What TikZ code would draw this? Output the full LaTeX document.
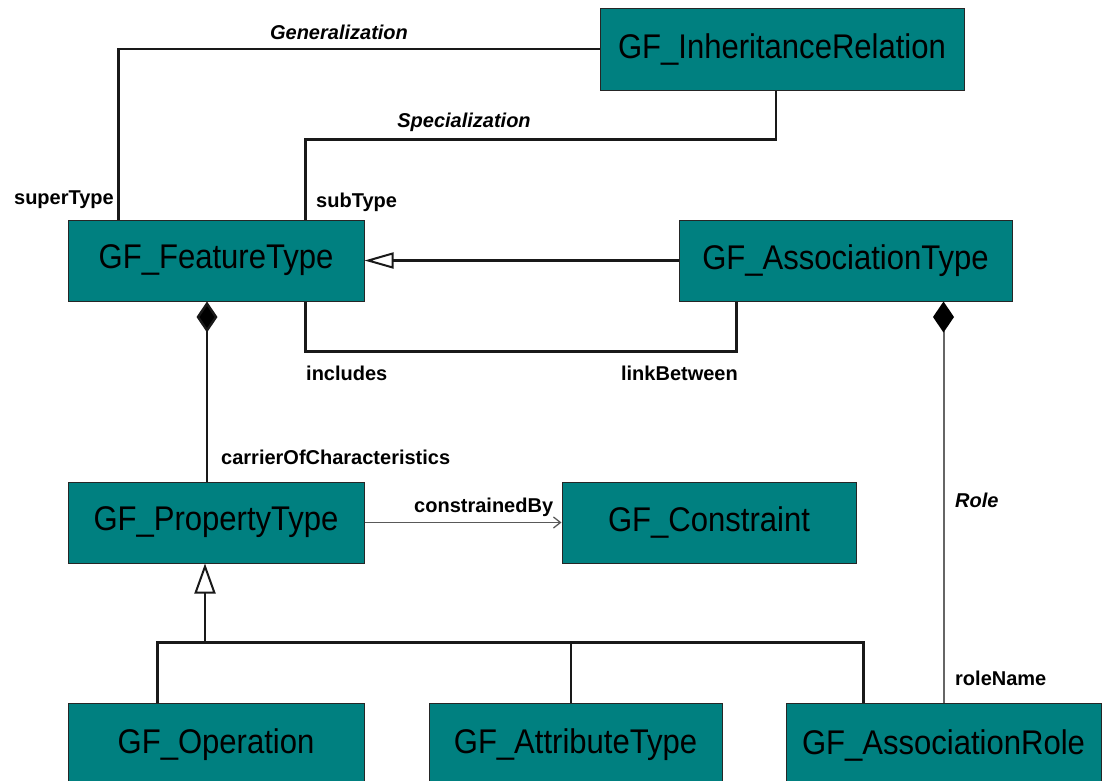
\documentclass[tikz,border=0pt]{standalone}
\usepackage{fontspec}
\setmainfont{Liberation Sans}
\usetikzlibrary{arrows.meta}
\definecolor{boxteal}{RGB}{0,128,128}
\newcommand{\tallname}[1]{\scalebox{0.97}[1.07]{#1}}
\begin{document}
\begin{tikzpicture}[x=1pt,y=-1pt,
  classbox/.style={rectangle, fill=boxteal, draw=black!85, line width=1pt,
    inner sep=0pt, font=\fontsize{32}{38}\selectfont, text=black},
  rolelabel/.style={inner sep=0pt, font=\fontsize{20}{24}\selectfont\bfseries},
  assoclabel/.style={inner sep=0pt, font=\fontsize{20}{24}\selectfont\bfseries\itshape},
  thick link/.style={draw=black!90, line width=2.4pt},
  thin link/.style={draw=black!65, line width=1.4pt},
  hollow gen/.style={-{Triangle[open, length=29pt, width=16pt, line width=2pt]}},
  composite/.style={{Diamond[fill=black, length=31pt, width=21pt]}-}
]
\useasboundingbox (0,0) rectangle (1103,780);
\clip (0,0) rectangle (1103,780);
\fill[white] (0,0) rectangle (1103,780);

% classes
\node[classbox, minimum width=364pt, minimum height=82pt] (inh) at (782,49) {\tallname{GF\_InheritanceRelation}};
\node[classbox, minimum width=296pt, minimum height=81pt] (ft)  at (216,260.5) {\tallname{GF\_FeatureType}};
\node[classbox, minimum width=333pt, minimum height=81pt] (at)  at (845.5,260.5) {\tallname{GF\_AssociationType}};
\node[classbox, minimum width=296pt, minimum height=81pt] (pt)  at (216,522.5) {\tallname{GF\_PropertyType}};
\node[classbox, minimum width=294pt, minimum height=81pt] (con) at (709,522.5) {\tallname{GF\_Constraint}};
\node[classbox, minimum width=296pt, minimum height=84pt] (op)  at (216,745) {\tallname{GF\_Operation}};
\node[classbox, minimum width=293pt, minimum height=84pt] (att) at (575.5,745) {\tallname{GF\_AttributeType}};
\node[classbox, minimum width=315pt, minimum height=84pt] (ar)  at (943.5,745) {\tallname{GF\_AssociationRole}};

% Generalization: superType
\draw[thick link] (inh.west) -| ([xshift=51pt]ft.north west);
% Specialization: subType
\draw[thick link] ([xshift=-6pt]inh.south) -- ++(0,49) -| ([xshift=238pt]ft.north west);
% association type specialises feature type
\draw[thick link, hollow gen] (at.west) -- (ft.east);
% includes / linkBetween
\draw[thick link] ([xshift=238pt]ft.south west) -- ++(0,50) -| ([xshift=58pt]at.south west);
% carrierOfCharacteristics composition
\draw[thick link, composite] ([xshift=-9pt]ft.south) -- ([xshift=-9pt]pt.north);
% constrainedBy
\draw[thin link, -{Straight Barb[length=7pt, width=11pt, line width=1.3pt]}] (pt.east) -- (con.west);
% property type subclasses
\draw[thick link, {Triangle[open, length=30pt, width=21pt, line width=2pt]}-] ([xshift=-11pt]pt.south) -- ++(0,80);
\draw[thick link] ([xshift=90pt]op.north west) -- ++(0,-60) -| ([xshift=78pt]ar.north west);
\draw[thick link] ([xshift=-4.5pt]att.north) -- ++(0,-60);
% Role composition
\draw[draw=black!60, line width=2pt, {Diamond[fill=black, color=black, length=31pt, width=21pt]}-] (at.south -| ar.north) -- (ar.north);

% labels
\node[assoclabel] (lgen) at (339,32) {Generalization};
\node[assoclabel] (lspec) at (464,122) {Specialization};
\node[rolelabel, anchor=east] (lsuper) at (114,200) {superType};
\node[rolelabel, anchor=west] (lsub) at (316,202) {subType};
\node[rolelabel, anchor=west] (linc) at (306,373) {includes};
\node[rolelabel, anchor=east] (llink) at (738,373) {linkBetween};
\node[rolelabel, anchor=west] (lcarrier) at (221,457) {carrierOfCharacteristics};
\node[rolelabel, anchor=west] (lcons) at (414,507) {constrainedBy};
\node[assoclabel, anchor=west] (lrole) at (955,500) {Role};
\node[rolelabel, anchor=west] (lrname) at (955,678) {roleName};
\end{tikzpicture}
\end{document}
